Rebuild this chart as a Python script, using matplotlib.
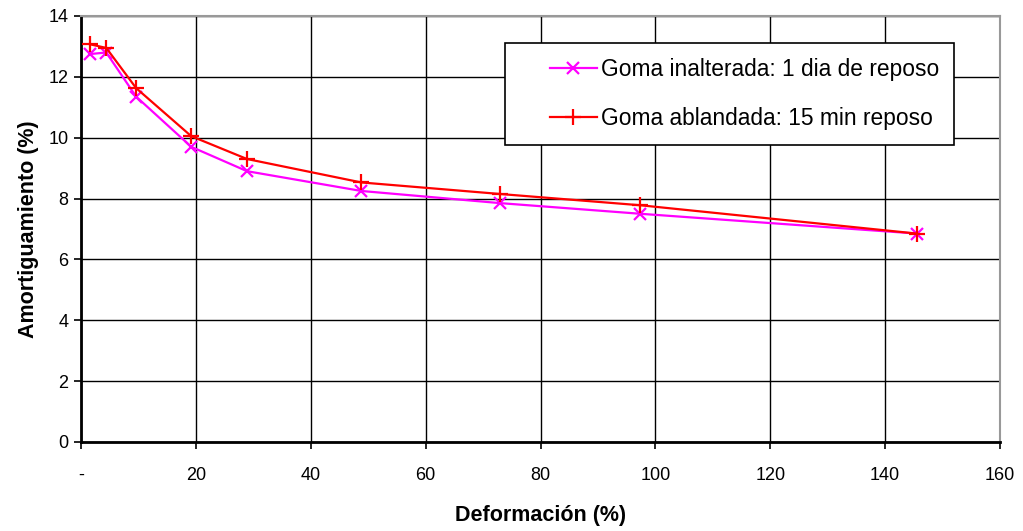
import matplotlib
matplotlib.use("Agg")
import matplotlib.pyplot as plt
from matplotlib.legend_handler import HandlerLine2D

plt.rcParams['font.family'] = ['Liberation Sans', 'DejaVu Sans']

# ---------------------------- Data -------------------------------
deformacion = [1.6, 4.4, 9.6, 19.2, 28.9, 48.8, 73.0, 97.4, 145.5]
goma_inalterada = [12.75, 12.8, 11.35, 9.7, 8.9, 8.25, 7.85, 7.5, 6.85]
goma_ablandada = [13.07, 12.95, 11.63, 10.05, 9.3, 8.53, 8.15, 7.78, 6.85]

x_ticks = [0, 20, 40, 60, 80, 100, 120, 140, 160]
x_ticklabels = ["-", "20", "40", "60", "80", "100", "120", "140", "160"]
y_ticks = [0, 2, 4, 6, 8, 10, 12, 14]


# legend handle drawn only on the right part of its box (Excel-like left gap)
class ShiftedLine(HandlerLine2D):
    def __init__(self, gap, **kw):
        super().__init__(**kw)
        self.gap = gap

    def create_artists(self, legend, orig_handle, xdescent, ydescent,
                       width, height, fontsize, trans):
        return super().create_artists(legend, orig_handle, xdescent - self.gap,
                                      ydescent, width - self.gap, height,
                                      fontsize, trans)


# ---------------------------- Figure -------------------------------
W, H = 1023, 531
fig = plt.figure(figsize=(W / 100, H / 100), dpi=100)
ax = fig.add_axes([81 / W, 1 - 442 / H, (1000 - 81) / W, (442 - 16) / H])

l1, = ax.plot(deformacion, goma_inalterada, color="#ff00ff", lw=1.6, marker="x",
              ms=9, mew=1.6, label="Goma inalterada: 1 dia de reposo", zorder=3)
l2, = ax.plot(deformacion, goma_ablandada, color="#ff0000", lw=1.6, marker="+",
              ms=11, mew=1.6, label="Goma ablandada: 15 min reposo", zorder=4)

ax.set_xlim(0, 160)
ax.set_ylim(0, 14)
ax.set_xticks(x_ticks)
ax.set_xticklabels(x_ticklabels)
ax.set_yticks(y_ticks)
ax.grid(True, color="black", lw=1.0)
ax.set_axisbelow(True)

ax.tick_params(axis="both", direction="out", length=5, width=1.2,
               labelsize=13, color="black")
ax.tick_params(axis="x", pad=13)
ax.tick_params(axis="y", pad=4)

for side in ["left", "bottom"]:
    ax.spines[side].set_color("black")
    ax.spines[side].set_linewidth(2)
for side in ["top", "right"]:
    ax.spines[side].set_color("#999999")
    ax.spines[side].set_linewidth(1.5)

ax.set_xlabel("Deformación (%)", fontsize=15.5, fontweight="bold", labelpad=15)
ax.set_ylabel("Amortiguamiento (%)", fontsize=15.5, fontweight="bold", labelpad=7)

gap = 21.5  # points
leg = ax.legend(loc="upper left", bbox_to_anchor=((505 - 81) / 919, 1 - (43 - 16) / 426),
                fontsize=16.4, frameon=True, fancybox=False, shadow=False,
                handlelength=3.4, handletextpad=0.18, borderpad=0.65,
                labelspacing=1.15, borderaxespad=0,
                handler_map={l1: ShiftedLine(gap), l2: ShiftedLine(gap)})
leg.get_frame().set_edgecolor("black")
leg.get_frame().set_linewidth(1.2)
leg.get_frame().set_alpha(1)

fig.savefig("out.png", dpi=100)
